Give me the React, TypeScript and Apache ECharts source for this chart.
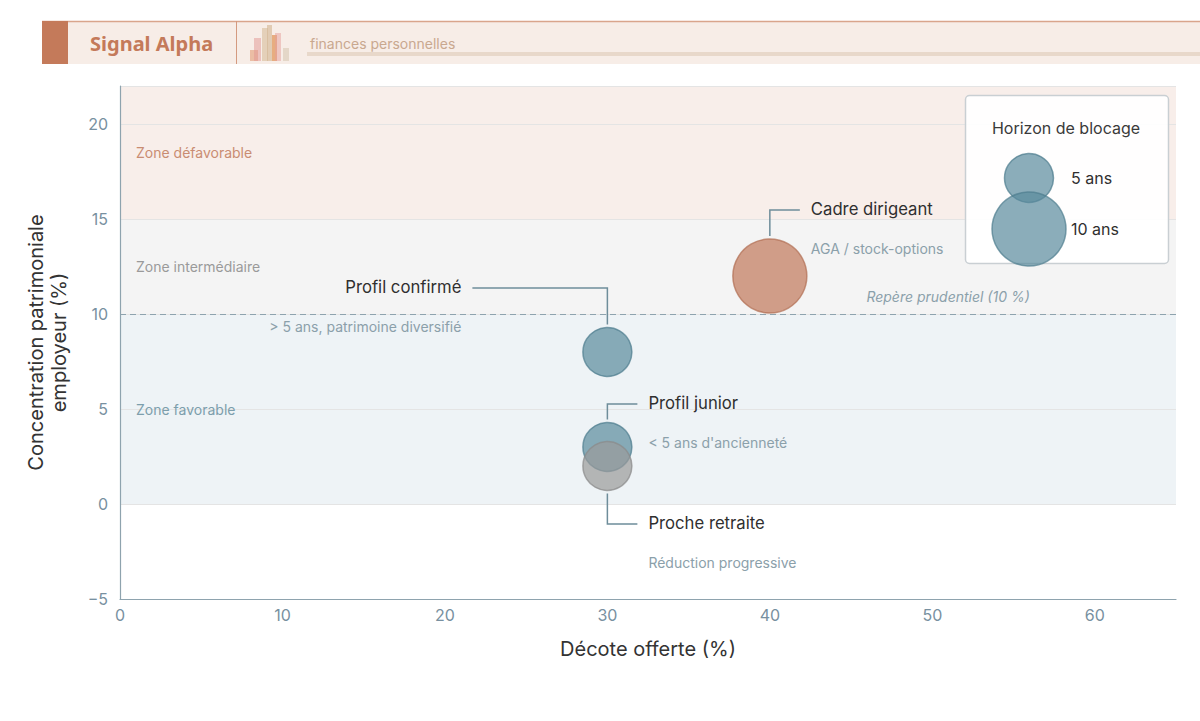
import { useEffect, useRef } from "react";
import * as echarts from "echarts";

// profils affichés (ordre de dessin : le gris passe au-dessus du junior)
const profils = ["Profil confirmé", "Profil junior", "Proche retraite", "Cadre dirigeant"];
const sousTitres = [
  "> 5 ans, patrimoine diversifié",
  "< 5 ans d'ancienneté",
  "Réduction progressive",
  "AGA / stock-options",
];
const decote = [30, 30, 30, 40];
const concentration = [8, 3, 2, 12];
const horizon = [5, 5, 5, 10];
const groupes = ["standard", "standard", "retraite", "dirigeant"];

const horizonsLegende = [5, 10];
const libellesLegende = ["5 ans", "10 ans"];

const zones = [
  { nom: "Zone défavorable", de: 15, a: 22 },
  { nom: "Zone intermédiaire", de: 10, a: 15 },
  { nom: "Zone favorable", de: 0, a: 10 },
];
const seuilPrudentiel = 10;

const FONT = "Inter, 'Noto Sans', sans-serif";

const couleurs: Record<string, { fill: string; border: string }> = {
  standard: { fill: "#5a8a9c", border: "#4e7d8f" },
  retraite: { fill: "#9a9a9a", border: "#8a8a8a" },
  dirigeant: { fill: "#c0785a", border: "#b06e52" },
};
const zoneStyles = [
  { bg: "#f8eeea", txt: "#c98c72" },
  { bg: "#f4f4f4", txt: "#9a9a9a" },
  { bg: "#eef3f6", txt: "#7c9eac" },
];

// position des étiquettes (en pixels, relative au centre de la bulle)
const annotations = [
  { dy: -64, dx: -135 },
  { dy: -43, dx: 30 },
  { dy: 58, dx: 30 },
  { dy: -66, dx: 30 },
];

const tailleBulle = (h: number) => 24 + 5 * h;

const App = () => {
  const chartRef = useRef<HTMLDivElement>(null);

  useEffect(() => {
    document.body.style.margin = "0";
    const chart = echarts.init(chartRef.current, null, { renderer: "svg" });

    const option: any = {
      animation: false,
      textStyle: { fontFamily: FONT },
      grid: { left: 120, right: 24, top: 86, bottom: 122 },
      xAxis: {
        type: "value",
        z: 2,
        min: 0,
        max: 65,
        interval: 10,
        name: "Décote offerte (%)",
        nameLocation: "middle",
        nameGap: 40,
        nameTextStyle: { fontSize: 20, color: "#333", fontFamily: FONT },
        axisLine: { onZero: false, lineStyle: { color: "#8ea3ae", width: 1.2 } },
        axisTick: { show: false },
        splitLine: { show: false },
        axisLabel: {
          color: "#7890a0",
          fontSize: 16,
          margin: 8,
          fontFamily: FONT,
          showMaxLabel: false,
        },
      },
      yAxis: {
        type: "value",
        z: 2,
        min: -5,
        max: 22,
        interval: 5,
        name: "Concentration patrimoniale\nemployeur (%)",
        nameLocation: "middle",
        nameGap: 50,
        nameTextStyle: { fontSize: 20, color: "#333", lineHeight: 23, fontFamily: FONT },
        axisLine: { show: true, onZero: false, lineStyle: { color: "#8ea3ae", width: 1.2 } },
        axisTick: { show: false },
        splitLine: { lineStyle: { color: "#e4e4e4", width: 1 } },
        axisLabel: {
          color: "#7890a0",
          fontSize: 16,
          margin: 12,
          fontFamily: FONT,
          showMaxLabel: false,
          formatter: (v: number) => (v < 0 ? "\u2212" + Math.abs(v) : String(v)),
        },
      },
      series: [
        {
          // bandes de fond
          type: "scatter",
          z: 1,
          data: [],
          silent: true,
          markArea: {
            silent: true,
            z: 1,
            label: { show: false },
            data: zones.map((z, i) => [
              { yAxis: z.de, itemStyle: { color: zoneStyles[i].bg } },
              { yAxis: z.a },
            ]),
          },
        },
        {
          type: "scatter",
          z: 3,
          data: profils.map((nom, i) => ({
            name: nom,
            value: [decote[i], concentration[i], horizon[i]],
            itemStyle: {
              color: couleurs[groupes[i]].fill,
              opacity: 0.7,
              borderColor: couleurs[groupes[i]].border,
              borderWidth: 1.5,
            },
          })),
          symbolSize: (val: number[]) => tailleBulle(val[2]),
          // libellés des zones, au-dessus des lignes de grille
          markArea: {
            silent: true,
            z: 3,
            data: zones.map((z, i) => [
              {
                yAxis: z.de,
                itemStyle: { color: "rgba(0,0,0,0)" },
                label: {
                  show: true,
                  position: "insideLeft",
                  distance: 16,
                  formatter: z.nom,
                  color: zoneStyles[i].txt,
                  fontSize: 14,
                  fontFamily: FONT,
                },
              },
              { yAxis: z.a },
            ]),
          },
          markLine: {
            silent: true,
            z: 3,
            symbol: "none",
            label: { show: false },
            lineStyle: { color: "#8ea3ae", type: [6, 4], width: 1.2 },
            data: [{ yAxis: seuilPrudentiel }],
          },
        },
      ],
    };

    chart.setOption(option);

    const header: any[] = [
      { type: "rect", shape: { x: 42, y: 21, width: 1158, height: 43 }, style: { fill: "#f7ede7" } },
      { type: "line", shape: { x1: 42, y1: 21.5, x2: 1200, y2: 21.5 }, style: { stroke: "#d9a58c", lineWidth: 1.5 } },
      { type: "rect", shape: { x: 42, y: 21, width: 26, height: 43 }, style: { fill: "#c47a5a" } },
      { type: "line", shape: { x1: 236.5, y1: 21, x2: 236.5, y2: 64 }, style: { stroke: "#d49a80", lineWidth: 1 } },
      {
        type: "text",
        x: 90,
        y: 43,
        style: {
          text: "Signal Alpha",
          fill: "#c47a5a",
          fontSize: 20,
          fontWeight: "bold",
          fontFamily: "'Noto Sans', sans-serif",
          verticalAlign: "middle",
          textAlign: "left",
        },
      },
      { type: "rect", shape: { x: 250, y: 50, width: 8, height: 11 }, style: { fill: "rgba(226,150,110,0.55)" } },
      { type: "rect", shape: { x: 254, y: 38, width: 7, height: 23 }, style: { fill: "rgba(225,150,145,0.5)" } },
      { type: "rect", shape: { x: 262, y: 28, width: 6, height: 33 }, style: { fill: "rgba(220,195,165,0.7)" } },
      { type: "rect", shape: { x: 267, y: 25, width: 5, height: 36 }, style: { fill: "rgba(210,180,145,0.6)" } },
      { type: "rect", shape: { x: 272, y: 35, width: 5, height: 26 }, style: { fill: "rgba(220,130,60,0.6)" } },
      { type: "rect", shape: { x: 275, y: 33, width: 6, height: 28 }, style: { fill: "rgba(230,160,155,0.5)" } },
      { type: "rect", shape: { x: 283, y: 48, width: 6, height: 13 }, style: { fill: "rgba(215,200,180,0.6)" } },
      {
        type: "text",
        x: 310,
        y: 43,
        style: {
          text: "finances personnelles",
          fill: "#c9a88f",
          fontSize: 14,
          fontFamily: FONT,
          verticalAlign: "middle",
        },
      },
      { type: "rect", shape: { x: 307, y: 52, width: 893, height: 4 }, style: { fill: "#e8d8ca" } },
    ];

    const notes: any[] = [];
    profils.forEach((nom, i) => {
      const [px, py] = chart.convertToPixel({ gridIndex: 0 }, [decote[i], concentration[i]]);
      const r = tailleBulle(horizon[i]) / 2;
      const a = annotations[i];
      const sens = a.dy < 0 ? -1 : 1;
      const y0 = py + sens * (r + 3);
      const ey = py + a.dy;
      const ex = px + a.dx;
      notes.push({
        type: "polyline",
        shape: { points: [[px, y0], [px, ey], [ex, ey]] },
        style: { stroke: "#6e8d9a", lineWidth: 1.5, fill: null },
      });
      const droite = a.dx > 0;
      const tx = ex + (droite ? 11 : -11);
      notes.push({
        type: "text",
        x: tx,
        y: ey - 1,
        style: {
          text: nom,
          fill: "#2f2f2f",
          fontSize: 16.7,
          fontFamily: FONT,
          textAlign: droite ? "left" : "right",
          verticalAlign: "middle",
        },
      });
      notes.push({
        type: "text",
        x: tx,
        y: ey + 38,
        style: {
          text: sousTitres[i],
          fill: "#8ba0aa",
          fontSize: 14,
          fontFamily: FONT,
          textAlign: droite ? "left" : "right",
          verticalAlign: "middle",
        },
      });
    });

    const [rx, ry] = chart.convertToPixel({ gridIndex: 0 }, [56, seuilPrudentiel]);
    notes.push({
      type: "text",
      x: rx,
      y: ry - 18,
      style: {
        text: "Repère prudentiel (10 %)",
        fill: "#8ba0aa",
        fontSize: 14,
        fontStyle: "italic",
        fontFamily: FONT,
        textAlign: "right",
        verticalAlign: "middle",
      },
    });

    const legende: any[] = [
      {
        type: "rect",
        shape: { x: 965.5, y: 95.5, width: 203, height: 168, r: 4 },
        style: { fill: "rgba(255,255,255,0.92)", stroke: "#c9cfd3", lineWidth: 1.5 },
      },
      {
        type: "text",
        x: 1066,
        y: 128,
        style: {
          text: "Horizon de blocage",
          fill: "#3a3a3a",
          fontSize: 16,
          fontFamily: FONT,
          textAlign: "center",
          verticalAlign: "middle",
        },
      },
    ];
    const legendeY = [178, 229];
    horizonsLegende.forEach((h, i) => {
      legende.push({
        type: "circle",
        shape: { cx: 1029, cy: legendeY[i], r: tailleBulle(h) / 2 },
        style: {
          fill: couleurs.standard.fill,
          opacity: 0.7,
          stroke: couleurs.standard.border,
          lineWidth: 1.5,
        },
      });
      legende.push({
        type: "text",
        x: 1071,
        y: legendeY[i],
        style: {
          text: libellesLegende[i],
          fill: "#2f2f2f",
          fontSize: 16,
          fontFamily: FONT,
          verticalAlign: "middle",
        },
      });
    });

    const elements = [...header, ...notes, ...legende].map((el, k) => ({ ...el, z: 100 + k }));
    chart.setOption({ graphic: elements });

    return () => {
      chart.dispose();
    };
  }, []);

  return <div ref={chartRef} style={{ width: 1200, height: 721 }}></div>;
};

export default App;
